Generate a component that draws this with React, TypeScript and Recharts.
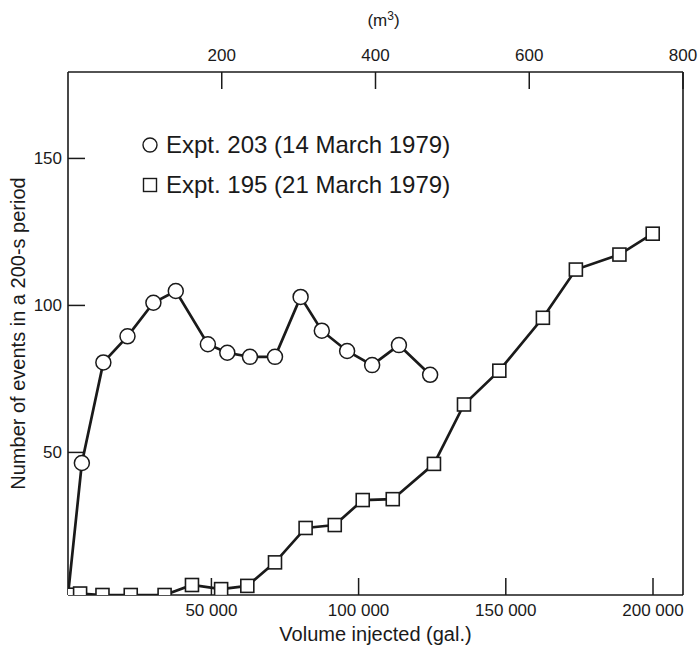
import { LineChart, Line, XAxis, YAxis, Legend, Label } from 'recharts';

// Expt. 203 (14 March 1979): volume injected (gal.) and events per 200 s
const circleGal = [1300, 6000, 13300, 21500, 30300, 37900, 48800, 55400, 63100, 71600, 80300, 87500, 96100, 104600, 113700, 124300];
const circleCount = [1.5, 46.4, 80.6, 89.5, 100.9, 104.9, 86.8, 83.9, 82.5, 82.5, 102.9, 91.4, 84.5, 79.7, 86.5, 76.4];

// Expt. 195 (21 March 1979)
const squareGal = [1300, 5400, 13000, 22600, 34100, 43400, 53300, 62200, 71600, 82000, 91900, 101400, 111600, 125600, 135800, 147800, 162600, 173800, 188600, 199900];
const squareCount = [1.6, 2.0, 1.5, 1.5, 1.5, 4.9, 3.5, 4.6, 12.6, 24.3, 25.3, 33.8, 34.1, 46.1, 66.3, 77.8, 95.8, 112.2, 117.3, 124.4];

const galTicks = [50000, 100000, 150000, 200000];
const m3Ticks = [200, 400, 600, 800];
const countTicks = [50, 100, 150];

const seriesNames = ['Expt. 203 (14 March 1979)', 'Expt. 195 (21 March 1979)'];

const GAL_PER_M3 = 264.172;

const circleData = circleGal.map((g, i) => ({ gal: g, count: circleCount[i] }));
const squareData = squareGal.map((g, i) => ({ gal: g, m3: g / GAL_PER_M3, count: squareCount[i] }));

const FONT = '"Liberation Sans", Arial, Helvetica, sans-serif';
const INK = '#1a1a1a';
const TICK_LEN = 17;

const fmtGal = (v: number) => String(v).replace(/\B(?=(\d{3})+(?!\d))/g, ' ');

// ticks point into the plot, labels sit outside
const BottomTick = ({ x, y, payload }: any) => (
  <g>
    <line x1={x} x2={x} y1={y} y2={y - TICK_LEN} stroke={INK} strokeWidth={1.5} />
    <text x={x} y={y + 21} textAnchor="middle" style={{ fontSize: 17, fontFamily: FONT }} fill={INK}>
      {fmtGal(payload.value)}
    </text>
  </g>
);

const TopTick = ({ x, y, payload }: any) => (
  <g>
    <line x1={x} x2={x} y1={y} y2={y + TICK_LEN} stroke={INK} strokeWidth={1.5} />
    <text x={x} y={y - 11} textAnchor="middle" style={{ fontSize: 17, fontFamily: FONT }} fill={INK}>
      {payload.value}
    </text>
  </g>
);

const LeftTick = ({ x, y, payload }: any) => (
  <g>
    <line x1={x} x2={x + TICK_LEN} y1={y} y2={y} stroke={INK} strokeWidth={1.5} />
    <text x={x - 6} y={y + 6} textAnchor="end" style={{ fontSize: 17, fontFamily: FONT }} fill={INK}>
      {payload.value}
    </text>
  </g>
);

const CircleDot = (props: any) => {
  const { cx, cy, index } = props;
  if (index === 0) return <g key={`c${index}`} />;
  return <circle key={`c${index}`} cx={cx} cy={cy} r={7.5} fill="#fff" stroke={INK} strokeWidth={1.5} />;
};

const SquareDot = (props: any) => {
  const { cx, cy, index } = props;
  return (
    <rect key={`s${index}`} x={cx - 6.5} y={cy - 6.5} width={13} height={13} fill="#fff" stroke={INK} strokeWidth={1.6} />
  );
};

const renderLegend = () => (
  <div style={{ fontFamily: FONT, fontSize: 24, color: INK, lineHeight: '40px' }}>
    {seriesNames.map((name, i) => (
      <div key={name} style={{ display: 'flex', alignItems: 'center', whiteSpace: 'nowrap' }}>
        <svg width={20} height={20} style={{ marginRight: 6 }}>
          {i === 0 ? (
            <circle cx={10} cy={10} r={7} fill="#fff" stroke={INK} strokeWidth={1.4} />
          ) : (
            <rect x={3.5} y={3.5} width={13} height={13} fill="#fff" stroke={INK} strokeWidth={1.4} />
          )}
        </svg>
        <span>{name}</span>
      </div>
    ))}
  </div>
);

export default function App() {
  return (
    <div style={{ position: 'absolute', left: 0, top: 0, background: '#fff' }}>
      <LineChart width={699} height={645} margin={{ top: 0, right: 0, bottom: 0, left: 0 }}>
        <XAxis
          xAxisId={0}
          type="number"
          dataKey="gal"
          orientation="bottom"
          domain={[1290, 210190]}
          allowDataOverflow
          ticks={galTicks}
          height={50}
          tickSize={0}
          tickMargin={0}
          tickLine={false}
          axisLine={{ stroke: INK, strokeWidth: 1.6 }}
          tick={<BottomTick />}
        >
          <Label
            content={({ viewBox }: any) => (
              <text
                x={viewBox.x + viewBox.width / 2}
                y={viewBox.y + viewBox.height - 4}
                textAnchor="middle"
                style={{ fontSize: 20, fontFamily: FONT }}
                fill={INK}
              >
                Volume injected (gal.)
              </text>
            )}
          />
        </XAxis>
        <XAxis
          xAxisId="top"
          type="number"
          dataKey="m3"
          orientation="top"
          domain={[0, 800]}
          allowDataOverflow
          ticks={m3Ticks}
          height={72}
          tickSize={0}
          tickMargin={0}
          tickLine={false}
          axisLine={{ stroke: INK, strokeWidth: 1.6 }}
          tick={<TopTick />}
        >
          <Label
            content={({ viewBox }: any) => (
              <text
                x={viewBox.x + viewBox.width / 2 + 8}
                y={26}
                textAnchor="middle"
                style={{ fontSize: 17, fontFamily: FONT }}
                fill={INK}
              >
                (m<tspan dy={-6} style={{ fontSize: 12 }}>3</tspan>
                <tspan dy={6}>)</tspan>
              </text>
            )}
          />
        </XAxis>
        <YAxis
          yAxisId={0}
          type="number"
          domain={[1.5, 179.4]}
          allowDataOverflow
          ticks={countTicks}
          width={68}
          tickSize={0}
          tickMargin={0}
          tickLine={false}
          axisLine={{ stroke: INK, strokeWidth: 1.6 }}
          tick={<LeftTick />}
        >
          <Label
            content={({ viewBox }: any) => {
              const cx = 18;
              const cy = viewBox.y + viewBox.height / 2;
              return (
                <text
                  x={cx}
                  y={cy}
                  transform={`rotate(-90, ${cx}, ${cy})`}
                  textAnchor="middle"
                  dominantBaseline="central"
                  style={{ fontSize: 20, fontFamily: FONT }}
                  fill={INK}
                >
                  Number of events in a 200-s period
                </text>
              );
            }}
          />
        </YAxis>
        <YAxis
          yAxisId="right"
          orientation="right"
          type="number"
          domain={[1.5, 179.4]}
          width={16}
          tick={false}
          tickLine={false}
          axisLine={{ stroke: INK, strokeWidth: 1.6 }}
        />
        <Legend
          layout="horizontal"
          verticalAlign="middle"
          align="center"
          content={renderLegend}
          wrapperStyle={{ left: 140, top: 125, width: 'auto', height: 'auto' }}
        />
        <Line
          data={circleData}
          dataKey="count"
          type="linear"
          stroke={INK}
          strokeWidth={2.7}
          dot={<CircleDot />}
          activeDot={false}
          isAnimationActive={false}
        />
        <Line
          data={squareData}
          dataKey="count"
          type="linear"
          stroke={INK}
          strokeWidth={2.7}
          dot={<SquareDot />}
          activeDot={false}
          isAnimationActive={false}
        />
        {/* invisible series that ties the m³ axis to the data so its ticks are drawn */}
        <Line
          data={squareData}
          dataKey="count"
          xAxisId="top"
          stroke="none"
          dot={false}
          activeDot={false}
          legendType="none"
          isAnimationActive={false}
        />
      </LineChart>
    </div>
  );
}
